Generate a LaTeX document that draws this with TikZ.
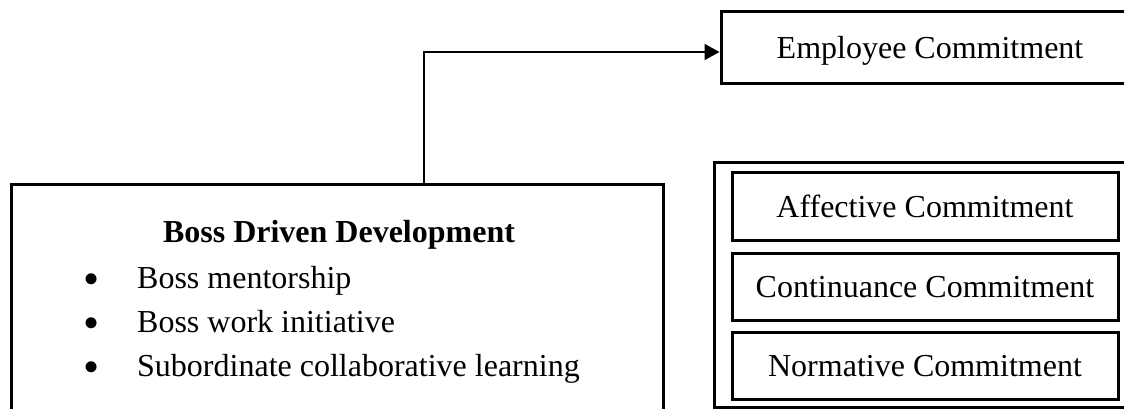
\documentclass[tikz,border=0pt]{standalone}
\usepackage{fontspec}
\setmainfont{Liberation Serif}
\usetikzlibrary{arrows.meta}
\begin{document}
\begin{tikzpicture}[x=1pt,y=-1pt,
  box/.style={draw,line width=3pt,rectangle,inner sep=0pt},
  lbl/.style={font=\fontsize{32}{38}\selectfont,text height=21pt,text depth=0pt,inner sep=0pt},
  dot/.style={font=\fontsize{46}{50}\selectfont,inner sep=0pt,anchor=base},
  conn/.style={line width=1.4pt,-{Triangle[length=15pt,width=16pt]}}]
\useasboundingbox (0,0) rectangle (1124,409);
\clip (0,0) rectangle (1124,409);

% independent variable block (runs past the lower edge)
\node[box,minimum width=652pt,minimum height=256pt] (bdd) at (337,312) {};
\node[lbl,font=\fontsize{32}{38}\selectfont\bfseries] (title) at (339,232) {Boss Driven Development};
\node[lbl,anchor=west] (i1) at (137,278) {Boss mentorship};
\node[lbl,anchor=west] (i2) at (137,322) {Boss work initiative};
\node[lbl,anchor=west] (i3) at (137,366) {Subordinate collaborative learning};
\node[dot] (b1) at (92,294) {\textbullet};
\node[dot] (b2) at (92,338) {\textbullet};
\node[dot] (b3) at (92,382) {\textbullet};

% dependent variable
\node[box,lbl,minimum width=418pt,minimum height=72pt] (emp) at (930,48) {Employee Commitment};

% commitment components
\node[box,minimum width=422pt,minimum height=245pt] (outer) at (925,284.5) {};
\node[box,lbl,minimum width=386pt,minimum height=68pt] (aff) at (925,206.5) {Affective Commitment};
\node[box,lbl,minimum width=386pt,minimum height=67pt] (con) at (925,286.5) {Continuance Commitment};
\node[box,lbl,minimum width=386pt,minimum height=67pt] (nor) at (925,365.5) {Normative Commitment};

% link
\draw[conn] ([xshift=87pt]bdd.north) |- ([yshift=-4pt]emp.west);
\end{tikzpicture}
\end{document}
